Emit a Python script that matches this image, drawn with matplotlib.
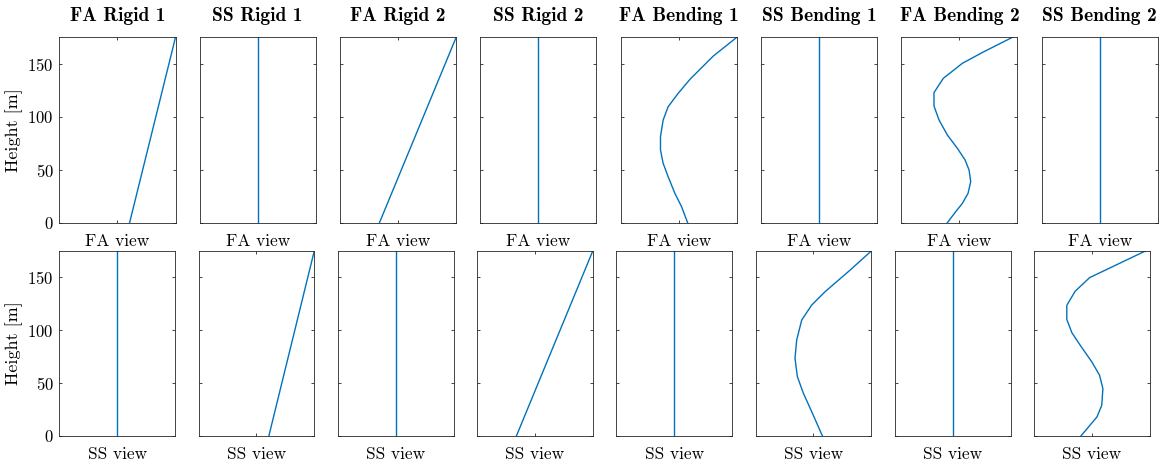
"""Tower mode shapes — FA / SS views of rigid and bending modes."""

import matplotlib
matplotlib.use("Agg")
import matplotlib.pyplot as plt

plt.rcParams["font.family"] = "serif"
plt.rcParams["font.serif"] = ["cmr10", "DejaVu Serif"]
plt.rcParams["mathtext.fontset"] = "cm"
plt.rcParams["axes.formatter.use_mathtext"] = True

W, H = 1174, 462
LINE = "#0072BD"
AX_COL = "#262626"

mode_titles = ["FA Rigid 1", "SS Rigid 1", "FA Rigid 2", "SS Rigid 2",
               "FA Bending 1", "SS Bending 1", "FA Bending 2", "SS Bending 2"]
row_labels = ["FA view", "SS view"]
y_ticks = [0, 50, 100, 150]

# rigid modes: straight lines from base to tower top
rigid_h = [0, 175]
fa_rigid1 = [0.21, 1.0]
ss_rigid1 = [0.215, 1.0]
fa_rigid2 = [-0.32, 1.0]
ss_rigid2 = [-0.32, 1.0]
no_motion = [0.0, 0.0]

# first bending modes
fa_bend1_h = [0, 15.1, 27.7, 43.4, 56.0, 68.6, 81.2, 96.9, 109.5, 122.1, 135.3, 157.4, 175]
fa_bend1 = [0.153, 0.049, -0.066, -0.182, -0.268, -0.314, -0.314, -0.268, -0.182, -0.009,
            0.193, 0.597, 1.0]
ss_bend1_h = [0, 23, 40.4, 56.1, 73.5, 90.8, 109.7, 123.9, 136.5, 157, 175]
ss_bend1 = [0.156, -0.029, -0.173, -0.277, -0.318, -0.289, -0.202, -0.029, 0.202, 0.636, 1.0]

# second bending modes
fa_bend2_h = [0, 10.4, 18.3, 27.7, 38.7, 49.7, 59.2, 70.2, 82.8, 97, 110.2, 122.8,
              136.3, 150.5, 161.5, 175]
fa_bend2 = [-0.207, -0.063, 0.052, 0.149, 0.195, 0.167, 0.098, -0.034, -0.207, -0.351,
            -0.437, -0.437, -0.276, 0.052, 0.425, 0.914]
ss_bend2_h = [0, 18, 29, 44.8, 57.4, 70, 85.8, 97.8, 110.4, 123.6, 136.9, 149.8, 175]
ss_bend2 = [-0.19, 0.087, 0.17, 0.19, 0.133, 0.0, -0.202, -0.347, -0.434, -0.434,
            -0.29, -0.04, 0.925]

# (x, height) per panel: row 0 = FA view, row 1 = SS view
panels = [
    [(fa_rigid1, rigid_h), (no_motion, rigid_h), (fa_rigid2, rigid_h), (no_motion, rigid_h),
     (fa_bend1, fa_bend1_h), (no_motion, rigid_h), (fa_bend2, fa_bend2_h), (no_motion, rigid_h)],
    [(no_motion, rigid_h), (ss_rigid1, rigid_h), (no_motion, rigid_h), (ss_rigid2, rigid_h),
     (no_motion, rigid_h), (ss_bend1, ss_bend1_h), (no_motion, rigid_h), (ss_bend2, ss_bend2_h)],
]

# pixel layout (left0, step, width, top, bottom) per row
layout = [(59.3, 140.33, 116.2, 37.3, 222.7),
          (59.3, 139.25, 115.7, 251.0, 436.0)]

fig = plt.figure(figsize=(W / 100, H / 100), dpi=100)

for r in range(2):
    left0, step, width, top, bottom = layout[r]
    for c in range(8):
        ax = fig.add_axes([(left0 + c * step) / W, (H - bottom) / H,
                           width / W, (bottom - top) / H])
        xs, hs = panels[r][c]
        ax.plot(xs, hs, color=LINE, lw=1.0)
        ax.set_xlim(-1, 1)
        ax.set_ylim(0, 175)
        ax.set_xticks([0])
        ax.set_yticks(y_ticks)
        ax.tick_params(direction="in", length=2.5, width=0.6, color=AX_COL,
                       top=True, right=True, labelbottom=False, labelsize=12,
                       pad=4)
        if c != 0:
            ax.tick_params(labelleft=False)
        else:
            ax.set_ylabel("Height [m]", fontsize=13, labelpad=3)
        for s in ax.spines.values():
            s.set_color(AX_COL)
            s.set_linewidth(0.6)
        ax.set_xlabel(row_labels[r], fontsize=12.5, labelpad=8)
        if r == 0:
            ax.set_title(mode_titles[c], fontsize=14, fontfamily="cmb10", pad=12)

plt.savefig("out.png", dpi=100)
